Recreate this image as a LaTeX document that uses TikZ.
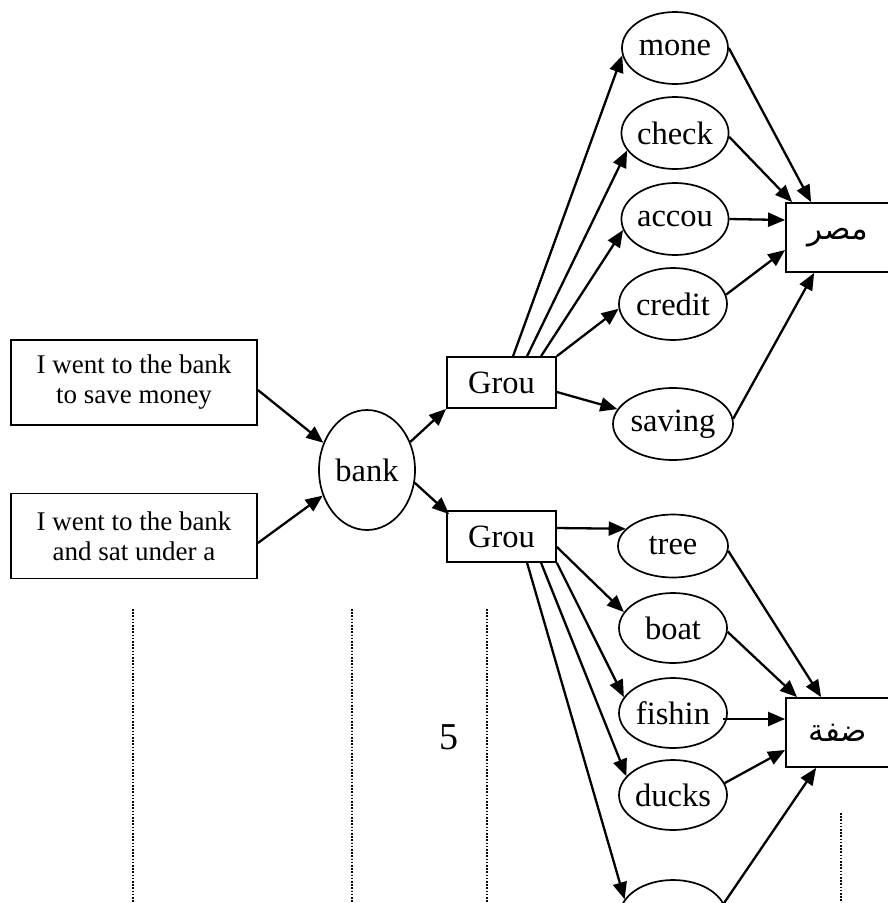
\documentclass[tikz,border=0pt]{standalone}
\usepackage{fontspec}
\setmainfont{Liberation Serif}
\newfontfamily\arabicfont[Script=Arabic]{DejaVu Sans}
\TeXXeTstate=1
\usetikzlibrary{shapes.geometric,arrows.meta,calc}
\begin{document}
\begin{tikzpicture}[x=1pt,y=-1pt,
  oval/.style={draw, ellipse, line width=1.7pt, inner sep=0pt, minimum width=108pt, minimum height=72pt, font=\fontsize{32.5}{34}\selectfont},
  box/.style={draw, rectangle, line width=1.8pt, inner sep=0pt},
  sent/.style={box, minimum width=246pt, minimum height=85pt, align=center, font=\fontsize{27}{30}\selectfont},
  grp/.style={box, minimum width=109pt, minimum height=51pt, font=\fontsize{32.5}{34}\selectfont},
  arab/.style={box, minimum width=104pt, minimum height=69pt, font=\arabicfont\fontsize{31}{34}\selectfont},
  arr/.style={line width=2.3pt, -{Triangle[length=17pt,width=14pt]}},
  dots/.style={line width=1.8pt, dash pattern=on 1.6pt off 1.6pt}]
\useasboundingbox (0,0) rectangle (888,903);
\clip (0,0) rectangle (888,903);

% sentence boxes
\node[sent] (s1) at (134,382.5) {I went to the bank\\to save money};
\node[sent] (s2) at (134,536) {I went to the bank\\and sat under a};

% bank
\node[oval, minimum width=96pt, minimum height=120pt] (bank) at (367,470) {bank};

% groups
\node[grp] (g1) at (501.5,382.5) {Grou};
\node[grp] (g2) at (501.5,536.5) {Grou};

% upper words
\node[oval, minimum width=106pt] (mone) at (675,48) {mone};
\node[oval, minimum width=107pt] (check) at (675,133) {check};
\node[oval, minimum width=107pt] (accou) at (675,219) {accou};
\node[oval] (credit) at (673,304) {credit};
\node[oval] (saving) at (673,424) {saving};

% lower words
\node[oval, minimum width=110pt, minimum height=63pt] (tree) at (673,546) {tree};
\node[oval, minimum height=70pt] (boat) at (673,628) {boat};
\node[oval, minimum height=70pt] (fishin) at (673,713) {fishin};
\node[oval, minimum height=70pt] (ducks) at (673,795) {ducks};
\node[oval, minimum width=106pt, minimum height=70pt] (last) at (673,915) {};

% arabic boxes
\node[arab] (masr) at (838,237.5) {\raisebox{-6pt}{\beginR مصر\endR}};
\node[arab] (difa) at (838,732.5) {\raisebox{-4pt}{\beginR ضفة\endR}};

% number
\node[font=\fontsize{38}{40}\selectfont, inner sep=0pt] (five) at (449,737) {5};

% connectors: sentences -> bank -> groups
\draw[arr] ($(s1.east)+(0,7.5)$) -- (bank.148);
\draw[arr] ($(s2.east)+(0,7)$) -- (bank.210);
\draw[arr] (bank.33) -- (g1.south west);
\draw[arr] (bank.-15) -- ($(g2.north west)+(3,4)$);

% group 1 -> words
\draw[arr] ($(g1.north west)+(67,0)$) -- (mone.188);
\draw[arr] ($(g1.north west)+(81,0)$) -- (check.200);
\draw[arr] ($(g1.north west)+(95,0)$) -- (accou.192);
\draw[arr] (g1.north east) -- (credit.185);
\draw[arr] ($(g1.east)+(0,9.5)$) -- (saving.165);

% words -> masr
\draw[arr] (mone.east) -- ($(masr.north west)+(26,0)$);
\draw[arr] (check.-4) -- ($(masr.north west)+(7,0)$);
\draw[arr] (accou.east) -- ($(masr.west)+(0,-17.5)$);
\draw[arr] (credit.10) -- ($(masr.west)+(0,12.5)$);
\draw[arr] (saving.5) -- ($(masr.south west)+(29,0)$);

% group 2 -> words
\draw[arr] ($(g2.east)+(0,-8.5)$) -- (tree.160);
\draw[arr] ($(g2.east)+(0,10.5)$) -- (boat.162);
\draw[arr] (g2.south east) -- (fishin.162);
\draw[arr] ($(g2.south west)+(95,0)$) -- (ducks.158);
\draw[arr] ($(g2.south west)+(81,0)$) -- (last.162);

% words -> difa
\draw[arr] (tree.-5) -- ($(difa.north west)+(36,0)$);
\draw[arr] (boat.-4) -- ($(difa.north west)+(12,0)$);
\draw[arr] ($(fishin.east)+(-5,6)$) -- ($(difa.west)+(0,-13.5)$);
\draw[arr] (ducks.13) -- ($(difa.west)+(0,17.5)$);
\draw[arr] (last.13) -- ($(difa.south west)+(31,0)$);

% dotted lines
\draw[dots] (133,609) -- (133,903);
\draw[dots] (352,609) -- (352,903);
\draw[dots] (487,609) -- (487,903);
\draw[dots] (841,813) -- (841,903);
\end{tikzpicture}
\end{document}
